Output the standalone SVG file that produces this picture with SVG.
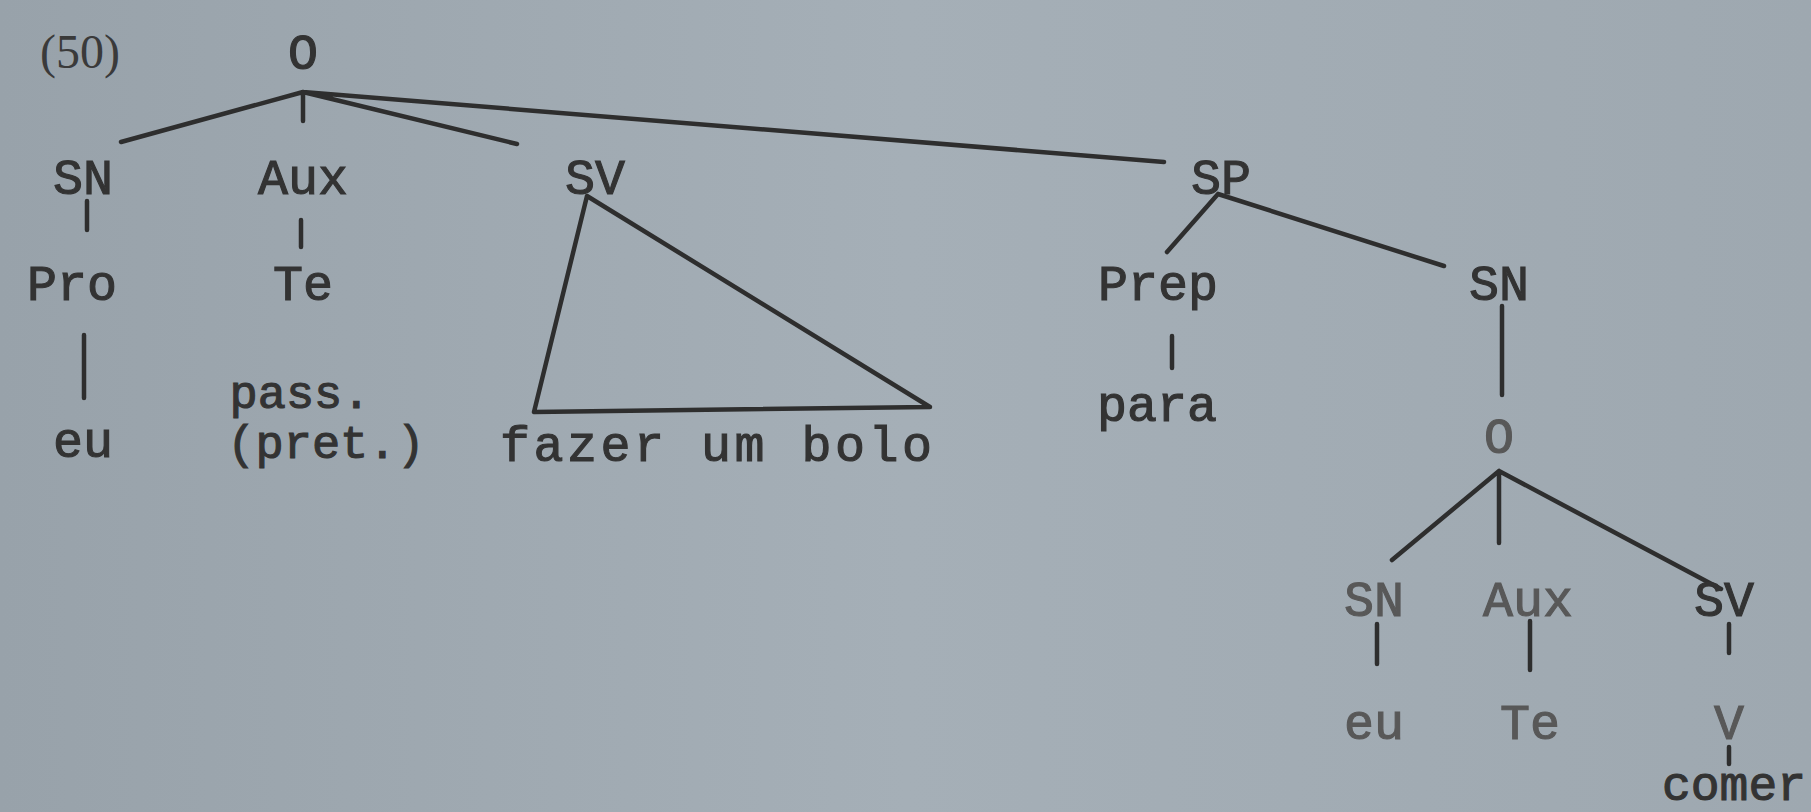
<svg xmlns="http://www.w3.org/2000/svg" width="1811" height="812" viewBox="0 0 1811 812">
<defs>
<linearGradient id="bg" x1="0" y1="0" x2="1" y2="0">
<stop offset="0" stop-color="#98a2aa"/>
<stop offset="0.5" stop-color="#a5afb7"/>
<stop offset="1" stop-color="#9ea8b0"/>
</linearGradient>
<style>
.t{font-family:"Liberation Mono","DejaVu Sans Mono",monospace;font-size:50px;fill:#333;stroke:#333;stroke-width:1.1;text-anchor:middle}
.s{font-size:47px}
.f{fill:#585858;stroke:#585858}
.n{font-family:"Liberation Serif",serif;font-size:48px;fill:#3a3a3a}
.e{stroke:#2e2e2e;stroke-width:4.5;fill:none;stroke-linecap:round;stroke-linejoin:round}
</style>
</defs>
<rect width="1811" height="812" fill="url(#bg)"/>
<text class="n" x="40" y="68">(50)</text>
<g id="connectors" class="e">
<path d="M303 92L121 142M303 92V121M303 92L517 144M303 92L1164 162"/>
<path d="M87 201V230M301 220V247M84 335V398M1172 336V368"/>
<path d="M587 196L534 412L930 407Z"/>
<path d="M1218 194L1167 252M1218 194L1444 266"/>
<path d="M1502 306V395"/>
<path d="M1499 471L1392 560M1499 471V543M1499 471L1721 589"/>
<path d="M1377 624V664M1530 621V670M1729 624V653M1729 747V764"/>
</g>
<g id="n-O"><text class="t" x="303" y="69">O</text></g>
<g id="n-SN"><text class="t" x="83" y="194">SN</text></g>
<g id="n-Aux"><text class="t" x="303" y="194">Aux</text></g>
<g id="n-SV"><text class="t" x="595" y="194">SV</text></g>
<g id="n-SP"><text class="t" x="1221" y="194">SP</text></g>
<g id="n-Pro"><text class="t" x="72" y="300">Pro</text></g>
<g id="n-Te"><text class="t" x="303" y="300">Te</text></g>
<g id="n-eu"><text class="t" x="83" y="457">eu</text></g>
<g id="n-pass"><text class="t s" x="300" y="408">pass.</text><text class="t s" x="326" y="458">(pret.)</text></g>
<g id="n-fazer"><text class="t" x="716" y="461" textLength="432" lengthAdjust="spacing">fazer um bolo</text></g>
<g id="n-Prep"><text class="t" x="1158" y="300">Prep</text></g>
<g id="n-para"><text class="t" x="1157" y="421">para</text></g>
<g id="n-SN2"><text class="t" x="1499" y="300">SN</text></g>
<g id="n-O2"><text class="t f" x="1499" y="453">O</text></g>
<g id="n-SN3"><text class="t f" x="1374" y="616">SN</text></g>
<g id="n-Aux2"><text class="t f" x="1528" y="616">Aux</text></g>
<g id="n-SV2"><text class="t" x="1724" y="616">SV</text></g>
<g id="n-eu2"><text class="t f" x="1374" y="739">eu</text></g>
<g id="n-Te2"><text class="t f" x="1530" y="739">Te</text></g>
<g id="n-V"><text class="t f" x="1729" y="739">V</text></g>
<g id="n-comer"><text class="t" x="1734" y="800" style="font-size:48px">comer</text></g>
</svg>
